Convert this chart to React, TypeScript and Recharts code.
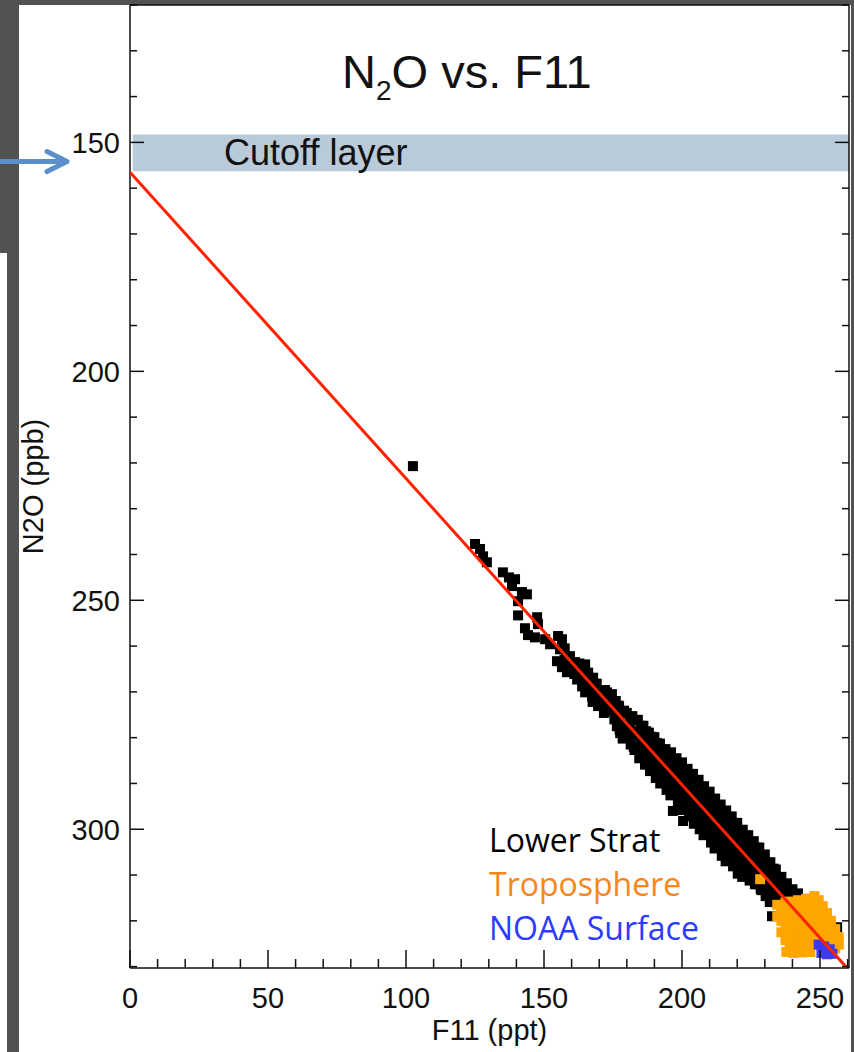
import { ScatterChart, Scatter, XAxis, YAxis, ReferenceArea, ReferenceDot, Label } from 'recharts'

const xTicks = [0, 10, 20, 30, 40, 50, 60, 70, 80, 90, 100, 110, 120, 130, 140, 150, 160, 170, 180, 190, 200, 210, 220, 230, 240, 250, 260]
const yTicks = [120, 130, 140, 150, 160, 170, 180, 190, 200, 210, 220, 230, 240, 250, 260, 270, 280, 290, 300, 310, 320, 330]
const xLabels = [0, 50, 100, 150, 200, 250]
const yLabels = [150, 200, 250, 300]

const cutoffLayer = [148.3, 156.3]
// end points of the red fit line
const fitLine = [
  { f11: 0, n2o: 156.5 },
  { f11: 259.5, n2o: 330.1 },
]

// [F11 ppt, N2O ppb]
const lowerStrat: [number, number][] = [
  [102.5, 220.7],
  [125.0, 237.7], [126.8, 238.8], [127.9, 240.4], [129.3, 241.7],
  [135.1, 243.9], [137.3, 245.0], [139.5, 245.4], [138.4, 246.9], [142.0, 248.2], [143.8, 248.7], [140.6, 250.2],
  [140.6, 253.3], [147.5, 253.7], [147.8, 255.2], [143.1, 256.1], [144.2, 257.6], [146.7, 258.1],
  [150.4, 258.5], [152.2, 259.6], [155.1, 257.8], [156.5, 258.5], [155.8, 260.7], [154.7, 263.3], [156.5, 264.6], [158.3, 265.7],
  [159.4, 262.2], [161.2, 263.5], [164.9, 264.0], [162.0, 267.3], [163.8, 268.8], [165.9, 266.6], [167.8, 266.9],
  [164.9, 270.1], [167.4, 271.0], [170.3, 271.0], [172.8, 270.1], [174.6, 270.5], [175.7, 272.0],
  [158.0, 262.6], [160.2, 264.6], [161.0, 266.1], [163.1, 265.2], [166.2, 268.5], [168.3, 270.0], [169.1, 268.2],
  [171.2, 272.6], [172.1, 269.6], [173.3, 273.5], [169.6, 273.1], [171.7, 274.6],
  [157.5, 260.5], [157.4, 263.0], [159.0, 264.8], [161.8, 265.0], [162.8, 263.8], [163.5, 266.4], [164.2, 267.5],
  [165.3, 268.2], [166.0, 265.8], [167.0, 269.4], [167.6, 272.2], [169.8, 270.4], [170.5, 272.6], [171.0, 270.8],
  [172.5, 271.8], [173.2, 271.0], [174.0, 272.4], [174.8, 274.2], [175.2, 273.6], [175.5, 276.0],
  [176.0, 272.0], [176.0, 274.8], [176.4, 277.5],
  [177.2, 273.2], [177.0, 276.0], [177.6, 279.0],
  [178.3, 274.5], [178.1, 277.8], [178.5, 280.2],
  [180.0, 274.6], [180.2, 277.2], [179.8, 279.8],
  [181.1, 276.5], [181.4, 281.5],
  [182.0, 275.3], [182.2, 278.6], [182.5, 282.0],
  [184.0, 276.1], [183.8, 279.0], [184.2, 282.4], [184.5, 284.5],
  [185.2, 277.8], [185.0, 281.2],
  [186.0, 277.4], [186.3, 280.3], [186.1, 283.6], [186.6, 285.9],
  [188.0, 278.9], [188.2, 281.5], [187.8, 285.0], [188.4, 287.3],
  [189.1, 280.2], [189.3, 283.8],
  [190.0, 279.9], [190.2, 282.7], [190.1, 286.1], [190.5, 288.8],
  [192.0, 281.3], [191.8, 284.5], [192.3, 287.4], [192.1, 290.0],
  [193.2, 282.6], [193.4, 289.3],
  [194.0, 282.5], [194.2, 285.8], [193.9, 288.6], [194.4, 291.4],
  [196.0, 283.2], [196.3, 286.5], [196.1, 289.9], [195.8, 292.6],
  [197.1, 284.6], [197.4, 291.0], [196.7, 296.0],
  [198.0, 284.5], [198.2, 287.8], [198.1, 291.3], [198.5, 294.4],
  [200.0, 285.4], [200.3, 289.0], [199.8, 292.5], [200.2, 295.8], [200.4, 298.2],
  [201.2, 287.0], [201.4, 294.2],
  [202.0, 286.8], [202.3, 290.1], [202.1, 293.5], [202.5, 297.2],
  [204.0, 287.9], [204.2, 291.4], [203.8, 295.0], [204.3, 298.8],
  [205.3, 289.6], [205.1, 296.8],
  [206.0, 289.2], [206.2, 292.6], [205.9, 296.4], [206.4, 300.0],
  [208.0, 290.6], [208.3, 294.2], [208.1, 297.9], [207.8, 301.3],
  [209.2, 292.0], [209.4, 299.6],
  [210.0, 291.8], [210.2, 295.4], [209.9, 299.2], [210.5, 302.9],
  [212.0, 293.3], [212.3, 296.6], [212.1, 300.4], [211.8, 304.2],
  [213.2, 294.8], [213.4, 302.1],
  [214.0, 294.6], [214.2, 298.2], [213.9, 301.9], [214.4, 305.8],
  [216.0, 295.9], [216.3, 299.5], [216.1, 303.2], [215.8, 307.0],
  [217.1, 297.3], [217.4, 305.0],
  [218.0, 297.2], [218.2, 300.8], [218.1, 304.6], [218.5, 308.1],
  [220.0, 298.6], [220.3, 302.2], [219.8, 305.9], [220.2, 309.7],
  [222.0, 300.1], [222.2, 303.4], [222.1, 307.2], [221.8, 310.4],
  [223.2, 301.4], [223.4, 308.9],
  [224.0, 301.3], [224.3, 304.9], [224.1, 308.6], [224.5, 311.2],
  [226.0, 302.6], [226.2, 306.3], [225.9, 309.9], [226.4, 312.0],
  [227.1, 304.0], [227.4, 311.1],
  [228.0, 304.0], [228.3, 307.6], [228.1, 311.0], [228.5, 313.0],
  [230.0, 305.5], [230.2, 309.0], [229.8, 312.3], [230.3, 314.6],
  [232.0, 307.2], [232.2, 310.5], [232.1, 313.6], [231.8, 315.9],
  [233.2, 308.6], [233.4, 314.8],
  [234.0, 308.8], [234.3, 312.0], [234.1, 315.2],
  [236.0, 310.4], [236.2, 313.4],
  [238.0, 311.8], [238.3, 314.9], [237.9, 317.0],
  [240.0, 313.1], [240.2, 316.2],
  [242.0, 314.0], [242.3, 317.4],
  [244.0, 315.4], [244.2, 318.3],
  [245.0, 315.2], [246.0, 316.7],
  [177.0, 273.0], [177.4, 278.3], [179.0, 274.1], [179.2, 277.2], [178.9, 279.9],
  [181.0, 275.4], [180.8, 278.6], [183.0, 276.2], [183.2, 279.4], [182.8, 282.7],
  [185.0, 277.4], [185.3, 280.6], [184.9, 283.9], [187.0, 278.6], [187.2, 281.9], [186.9, 285.2],
  [189.0, 279.8], [189.2, 283.2], [188.8, 286.5], [191.0, 281.2], [191.3, 284.6], [190.9, 287.9],
  [193.0, 282.7], [193.2, 285.9], [192.8, 289.1], [195.0, 283.9], [195.3, 287.2], [194.9, 290.6],
  [197.0, 285.1], [197.2, 288.7], [196.8, 291.9], [199.0, 286.4], [199.3, 289.8], [198.9, 293.3],
  [201.0, 287.9], [201.2, 291.2], [200.8, 294.6], [203.0, 289.1], [203.3, 292.6], [202.9, 295.9],
  [205.0, 290.4], [205.2, 293.8], [204.8, 297.3], [207.0, 291.8], [207.3, 295.2], [206.9, 298.6],
  [209.0, 293.1], [209.2, 296.5], [208.8, 300.0], [211.0, 294.5], [211.3, 297.9], [210.9, 301.2],
  [213.0, 295.7], [213.2, 299.2], [212.8, 302.6], [215.0, 297.1], [215.3, 300.5], [214.9, 304.0],
  [217.0, 298.5], [217.2, 301.9], [216.8, 305.3], [219.0, 299.8], [219.3, 303.2], [218.9, 306.6],
  [221.0, 301.1], [221.2, 304.5], [220.8, 307.9], [223.0, 302.5], [223.3, 305.9], [222.9, 309.3],
  [225.0, 303.8], [225.2, 307.2], [224.8, 310.6], [227.0, 305.2], [227.3, 308.6], [226.9, 312.0],
  [229.0, 306.5], [229.2, 309.9], [228.8, 313.3], [231.0, 308.0], [231.3, 311.2], [230.9, 314.5],
  [233.0, 309.6], [233.2, 312.6], [235.0, 311.0], [235.3, 313.9], [237.0, 312.3], [237.2, 315.6],
  [239.0, 313.6], [239.3, 316.4], [241.0, 314.6], [241.2, 317.6], [243.0, 315.7], [243.3, 318.6],
  [232.6, 319.0], [256.2, 321.4],
]

const troposphere: [number, number][] = [
  [228.3, 310.9],
  [234.5, 316.5], [234.5, 319.0],
  [236.0, 317.2], [236.0, 320.0], [236.0, 322.5],
  [237.5, 316.0], [237.5, 318.6], [237.5, 321.4], [237.5, 324.2], [237.8, 326.8],
  [239.0, 315.8], [239.0, 318.0], [239.0, 320.4], [239.0, 323.0], [239.0, 325.6],
  [240.5, 316.8], [240.5, 319.6], [240.5, 322.1], [240.5, 324.8], [240.5, 327.0],
  [242.0, 315.5], [242.0, 318.2], [242.0, 320.9], [242.0, 323.4], [242.0, 326.0],
  [243.5, 316.4], [243.5, 319.0], [243.5, 321.8], [243.5, 324.5], [243.5, 326.9],
  [245.0, 315.2], [245.0, 317.9], [245.0, 320.5], [245.0, 323.2], [245.0, 325.8],
  [246.5, 316.0], [246.5, 318.7], [246.5, 321.3], [246.5, 324.0], [246.5, 326.8],
  [248.0, 314.6], [248.0, 317.2], [248.0, 319.8], [248.0, 322.6], [248.0, 325.1],
  [249.5, 315.5], [249.5, 318.0], [249.5, 320.8], [249.5, 323.5],
  [251.0, 316.8], [251.0, 319.4], [251.0, 322.0], [251.0, 324.6],
  [252.5, 318.3], [252.5, 321.0], [252.5, 323.4], [252.5, 326.1],
  [254.0, 320.0], [254.0, 322.5], [254.0, 325.0],
  [255.5, 321.8], [255.5, 324.2], [255.5, 326.0],
  [256.8, 323.6], [256.8, 325.2],
]

const noaaSurface: [number, number][] = [
  [249.5, 325.2], [251.5, 325.6], [253.5, 326.2],
  [250.5, 327.0], [252.5, 327.3], [254.5, 327.2],
]

const toPoints = (rows: [number, number][]) => rows.map(([f11, n2o]) => ({ f11, n2o }))

const FONT = '"Liberation Sans", Arial, Helvetica, sans-serif'

const square = (color: string) => (p: any) => (
  <rect x={p.cx - 5} y={p.cy - 5} width={10} height={10} fill={color} />
)

const LeftTick = (p: any) => {
  const edge = p.x + 10
  const major = yLabels.includes(p.payload.value)
  return (
    <g>
      <line x1={edge} x2={edge + (major ? 14 : 7)} y1={p.y} y2={p.y} stroke="#111" strokeWidth={1.5} />
      {major && (
        <text x={p.x} y={p.y} dy={10.5} textAnchor="end" fontSize={29} fontFamily={FONT} fill="#111">
          {p.payload.value}
        </text>
      )}
    </g>
  )
}

const RightTick = (p: any) => {
  const major = yLabels.includes(p.payload.value)
  return <line x1={p.x} x2={p.x - (major ? 14 : 7)} y1={p.y} y2={p.y} stroke="#111" strokeWidth={1.5} />
}

const BottomTick = (p: any) => {
  const edge = p.y - 10
  const major = xLabels.includes(p.payload.value)
  return (
    <g>
      <line x1={p.x} x2={p.x} y1={edge} y2={edge - (major ? 18 : 9)} stroke="#111" strokeWidth={1.5} />
      {major && (
        <text x={p.x} y={p.y} dy={30} textAnchor="middle" fontSize={29} fontFamily={FONT} fill="#111">
          {p.payload.value}
        </text>
      )}
    </g>
  )
}

const TopTick = (p: any) => {
  const major = xLabels.includes(p.payload.value)
  return <line x1={p.x} x2={p.x} y1={p.y} y2={p.y + (major ? 18 : 9)} stroke="#111" strokeWidth={1.5} />
}

const Arrow = (p: any) => (
  <g stroke="#5b8fcb" strokeWidth={5} fill="none" strokeLinecap="round" strokeLinejoin="round">
    <line x1={p.cx - 132} y1={p.cy} x2={p.cx - 64} y2={p.cy} />
    <polyline points={`${p.cx - 83},${p.cy - 10} ${p.cx - 63},${p.cy} ${p.cx - 83},${p.cy + 10}`} />
  </g>
)

export default function App() {
  return (
    <div style={{ position: 'absolute', left: 0, top: 0, width: 854, height: 1052, background: '#525252', overflow: 'hidden' }}>
      <div style={{ position: 'absolute', left: 19, top: 5, width: 832, height: 1047, background: '#fff' }} />
      <div style={{ position: 'absolute', left: 0, top: 253, width: 7, height: 799, background: '#fff' }} />
      <div style={{ position: 'absolute', left: 0, top: 0 }}>
        <ScatterChart width={854} height={1052} margin={{ top: 0, right: 0, bottom: 0, left: 5 }}>
          <XAxis
            type="number"
            dataKey="f11"
            domain={[0, 260.5]}
            ticks={xTicks}
            interval={0}
            allowDataOverflow
            height={84}
            tickSize={0}
            tickMargin={10}
            tick={<BottomTick />}
            axisLine={{ stroke: '#111', strokeWidth: 1.5 }}
          >
            <Label
              content={(p: any) => (
                <text x={p.viewBox.x + p.viewBox.width / 2} y={1040} textAnchor="middle" fontSize={29} fontFamily={FONT} fill="#111">
                  F11 (ppt)
                </text>
              )}
            />
          </XAxis>
          <XAxis
            xAxisId="top"
            orientation="top"
            type="number"
            domain={[0, 260.5]}
            ticks={xTicks}
            interval={0}
            allowDataOverflow
            height={5}
            tickSize={0}
            tickMargin={0}
            tick={<TopTick />}
            axisLine={{ stroke: '#111', strokeWidth: 1.5 }}
          />
          <YAxis
            type="number"
            dataKey="n2o"
            domain={[120, 330.3]}
            reversed
            ticks={yTicks}
            interval={0}
            allowDataOverflow
            width={125}
            tickSize={0}
            tickMargin={10}
            tick={<LeftTick />}
            axisLine={{ stroke: '#111', strokeWidth: 1.5 }}
          >
            <Label
              content={(p: any) => {
                const cy = p.viewBox.y + p.viewBox.height / 2
                return (
                  <text x={43} y={cy} transform={`rotate(-90, 43, ${cy})`} textAnchor="middle" fontSize={29} fontFamily={FONT} fill="#111">
                    N2O (ppb)
                  </text>
                )
              }}
            />
          </YAxis>
          <YAxis
            yAxisId="right"
            orientation="right"
            type="number"
            domain={[120, 330.3]}
            reversed
            ticks={yTicks}
            interval={0}
            allowDataOverflow
            width={5}
            tickSize={0}
            tickMargin={0}
            tick={<RightTick />}
            axisLine={{ stroke: '#111', strokeWidth: 1.5 }}
          />
          <ReferenceArea
            x1={1}
            x2={260.5}
            y1={cutoffLayer[0]}
            y2={cutoffLayer[1]}
            fill="#b9cadb"
            fillOpacity={1}
            stroke="none"
            ifOverflow="hidden"
          >
            <Label
              content={(p: any) => (
                <text x={224} y={p.viewBox.y + p.viewBox.height / 2 + 12} fontSize={36} fontFamily={FONT} fill="#111">
                  Cutoff layer
                </text>
              )}
            />
          </ReferenceArea>
          <ReferenceDot x={0} y={154.2} ifOverflow="visible" shape={Arrow} />
          <Scatter name="Lower Strat" data={toPoints(lowerStrat)} shape={square('#000')} isAnimationActive={false} />
          <Scatter name="Troposphere" data={toPoints(troposphere)} shape={square('#ffa500')} isAnimationActive={false} />
          <Scatter name="NOAA Surface" data={toPoints(noaaSurface)} shape={square('#3a3aee')} isAnimationActive={false} />
          <Scatter
            name="fit"
            data={fitLine}
            line={{ stroke: '#ff2200', strokeWidth: 3 }}
            lineType="joint"
            shape={() => <g />}
            isAnimationActive={false}
          />
        </ScatterChart>
      </div>
      <div style={{ position: 'absolute', left: 342, top: 48, fontFamily: FONT, fontSize: 47, lineHeight: '47px', color: '#111', whiteSpace: 'nowrap' }}>
        N<span style={{ fontSize: 28, position: 'relative', top: 12 }}>2</span>O vs. F11
      </div>
      <div style={{ position: 'absolute', left: 489, top: 818, fontFamily: '"Open Sans", sans-serif', fontSize: 32, lineHeight: '44px', whiteSpace: 'nowrap' }}>
        <div style={{ color: '#000' }}>Lower Strat</div>
        <div style={{ color: '#f7861c' }}>Troposphere</div>
        <div style={{ color: '#2b3bff' }}>NOAA Surface</div>
      </div>
    </div>
  )
}
